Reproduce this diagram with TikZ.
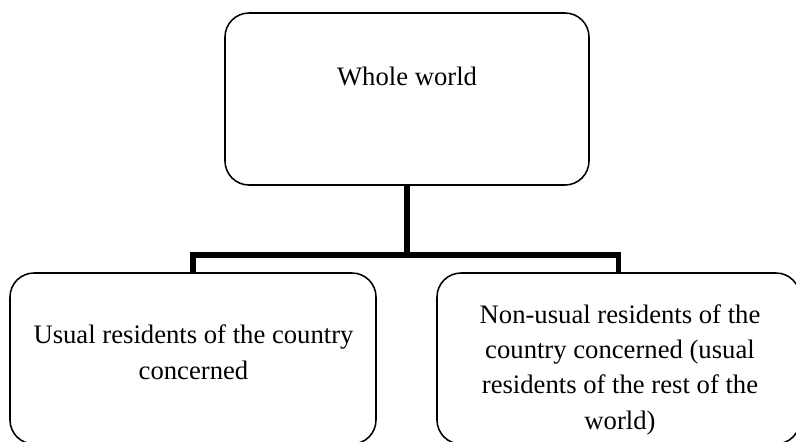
\documentclass[tikz,border=0pt]{standalone}
\usepackage{fontspec}
\setmainfont{Liberation Serif}
\begin{document}
\begin{tikzpicture}[x=0.45pt, y=-0.45pt,
  box/.style={draw, line width=0.7pt, rounded corners=10.8pt, inner sep=0pt},
  txt/.style={align=center, font=\fontsize{12}{15.8}\selectfont, anchor=base, inner sep=0pt},
  link/.style={line width=2.3pt}]
\path[use as bounding box, clip] (0,0) rectangle (796,441);
\node[box, minimum width=364*0.45pt, minimum height=172*0.45pt] (world) at (407,99) {};
\node[box, minimum width=366*0.45pt, minimum height=171*0.45pt] (usual) at (193,358.5) {};
\node[box, minimum width=363*0.45pt, minimum height=171*0.45pt] (nonusual) at (618.5,358.5) {};
% base anchor sits on the last line
\node[txt] (worldtxt) at (407,85) {Whole world};
\node[txt] (usualtxt) at (193.5,379) {Usual residents of the country\\concerned};
\node[txt] (nonusualtxt) at (620,429) {Non-usual residents of the\\country concerned (usual\\residents of the rest of the\\world)};
\coordinate (split) at (407,255);
\draw[link] (world.south) -- (split);
\draw[link] (usual.north) |- (split) -| (nonusual.north);
\end{tikzpicture}
\end{document}
